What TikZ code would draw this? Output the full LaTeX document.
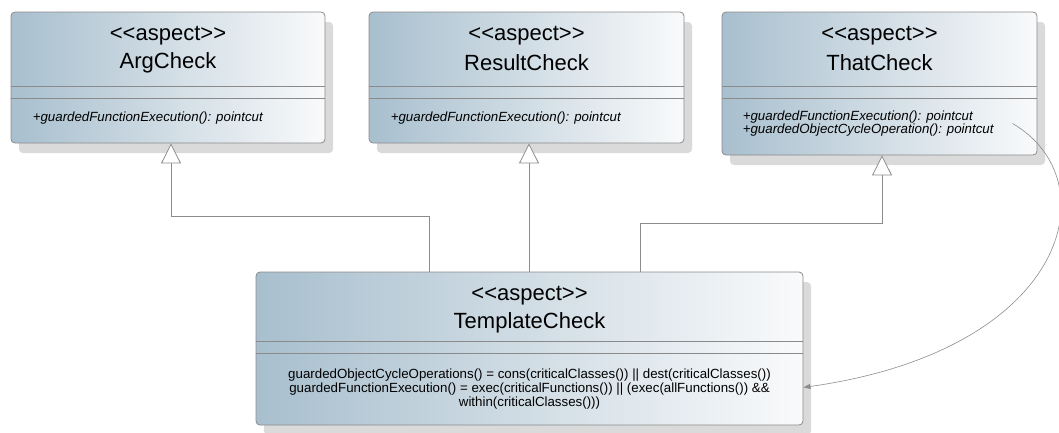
\documentclass[tikz,border=0pt]{standalone}
\usepackage{fontspec}
\newfontfamily\umlfont{Liberation Sans}
\usetikzlibrary{arrows.meta,shadows,calc}
\definecolor{boxdark}{RGB}{168,191,206}
\definecolor{boxlight}{RGB}{249,250,251}
\definecolor{edgegray}{RGB}{138,138,138}
\definecolor{shadowgray}{RGB}{218,218,218}
\definecolor{linegray}{RGB}{140,140,140}
\begin{document}
\begin{tikzpicture}[x=1pt,y=-1pt,
  aspectbox/.style={draw=edgegray, line width=0.8pt, rounded corners=4pt,
    left color=boxdark, right color=boxlight, inner sep=0pt,
    drop shadow={shadow xshift=8pt, shadow yshift=-10pt, fill=shadowgray, opacity=1}},
  sepline/.style={draw=edgegray, line width=0.8pt},
  titletext/.style={font=\umlfont\fontsize{22}{26}\selectfont, inner sep=0pt},
  optext/.style={font=\umlfont\itshape\fontsize{13.3}{11}\selectfont, inner sep=0pt, anchor=west},
  bodytext/.style={font=\umlfont\fontsize{13.3}{14}\selectfont, inner sep=0pt, align=center},
  generalization/.style={draw=linegray, line width=0.8pt,
    -{Triangle[open, length=20pt, width=20pt, fill=white]}},
  dependency/.style={draw=linegray, line width=0.6pt,
    -{Triangle[length=7pt, width=5pt]}}]
\useasboundingbox (0,0) rectangle (1059,432);

% parent aspects
\node[aspectbox, minimum width=314pt, minimum height=131pt] (arg) at (168,77.5) {};
\node[aspectbox, minimum width=315pt, minimum height=131pt] (res) at (526.5,77.5) {};
\node[aspectbox, minimum width=315pt, minimum height=143pt] (that) at (879.5,83.5) {};
% derived aspect
\node[aspectbox, minimum width=547pt, minimum height=153pt] (tmpl) at (529.5,348.5) {};

% compartments
\foreach \b/\o in {arg/75, res/75, that/75, tmpl/70}{
  \draw[sepline] ($(\b.north west)+(0,\o)$) -- ($(\b.north east)+(0,\o)$);
  \draw[sepline] ($(\b.north west)+(0,\o+12)$) -- ($(\b.north east)+(0,\o+12)$);
}

% names
\node[titletext] (argS) at ($(arg.north)+(0,24)$) {<<aspect>>};
\node[titletext] (argN) at ($(arg.north)+(0,51)$) {ArgCheck};
\node[titletext] (resS) at ($(res.north)+(0,24)$) {<<aspect>>};
\node[titletext] (resN) at ($(res.north)+(0,51)$) {ResultCheck};
\node[titletext] (thatS) at ($(that.north)+(0,24)$) {<<aspect>>};
\node[titletext] (thatN) at ($(that.north)+(0,51)$) {ThatCheck};
\node[titletext] (tmplS) at ($(tmpl.north)+(0,24)$) {<<aspect>>};
\node[titletext] (tmplN) at ($(tmpl.north)+(0,51)$) {TemplateCheck};

% operations
\node[optext] (argOp) at ($(arg.north west)+(22,106)$) {+guardedFunctionExecution(): pointcut};
\node[optext] (resOp) at ($(res.north west)+(22,106)$) {+guardedFunctionExecution(): pointcut};
\node[optext] (thatOp1) at ($(that.north west)+(21,105.5)$) {+guardedFunctionExecution(): pointcut};
\node[optext] (thatOp2) at ($(that.north west)+(21,118.5)$) {+guardedObjectCycleOperation(): pointcut};
\node[bodytext] (tmplBody) at ($(tmpl.north)+(0,117)$) {guardedObjectCycleOperations() = cons(criticalClasses()) || dest(criticalClasses())\\
guardedFunctionExecution() = exec(criticalFunctions()) || (exec(allFunctions()) \&\&\\
within(criticalClasses()))};

% generalizations
\draw[generalization] ([xshift=-100.5pt]tmpl.north) -- ++(0,-55) -| ([xshift=3pt]arg.south);
\draw[generalization] ([xshift=-0.5pt]tmpl.north) -- ([xshift=2.5pt]res.south);
\draw[generalization] ([xshift=110.5pt]tmpl.north) -- ++(0,-48) -| ([xshift=2.5pt]that.south);

% pointcut usage
\coordinate (src) at ($(that.south east)+(-25,-32)$);
\coordinate (dst) at ($(tmpl.south east)+(0,-38)$);
\draw[dependency] (src) .. controls (1110,180) and (1070,350) .. (dst);
\end{tikzpicture}
\end{document}
